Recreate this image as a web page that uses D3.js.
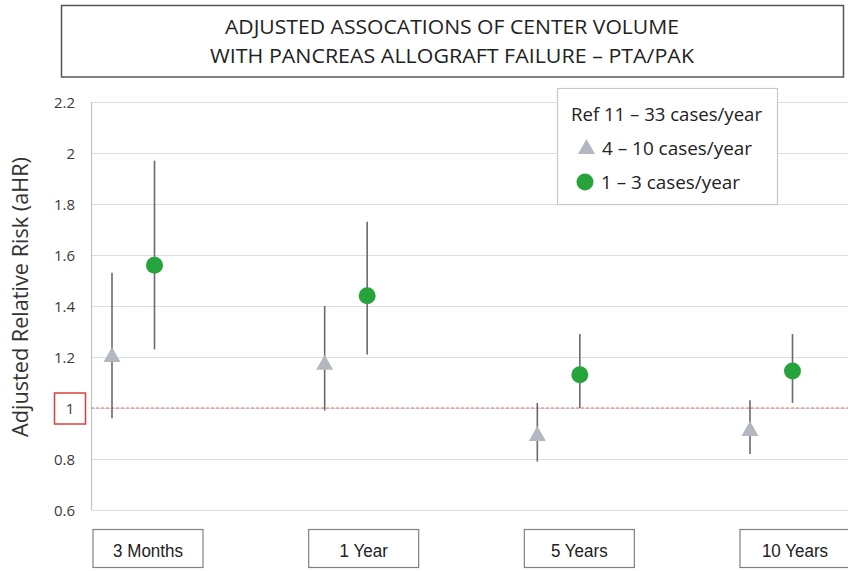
<!DOCTYPE html>
<html>
<head>
<meta charset="utf-8">
<script src="https://cdn.jsdelivr.net/npm/d3@7"></script>
<style>
  html, body { margin: 0; padding: 0; background: #fff; }
  svg { display: block; }
</style>
</head>
<body>
<svg id="chart" width="848" height="571"></svg>
<script>
// ---- Data ----
const categories = ["3 Months", "1 Year", "5 Years", "10 Years"];
// 4 – 10 cases/year (triangles)
const midEst   = [1.20, 1.17, 0.89, 0.91];
const midLow   = [0.96, 0.99, 0.79, 0.82];
const midHigh  = [1.53, 1.40, 1.02, 1.03];
// 1 – 3 cases/year (circles)
const lowEst   = [1.56, 1.44, 1.13, 1.145];
const lowLow   = [1.23, 1.21, 1.00, 1.02];
const lowHigh  = [1.97, 1.73, 1.29, 1.29];
const yTicks = [0.6, 0.8, 1.0, 1.2, 1.4, 1.6, 1.8, 2.0, 2.2];
const titleLines = ["ADJUSTED ASSOCATIONS OF CENTER VOLUME", "WITH PANCREAS ALLOGRAFT FAILURE – PTA/PAK"];
const legendItems = ["Ref 11 – 33 cases/year", "4 – 10 cases/year", "1 – 3 cases/year"];
const yTitle = "Adjusted Relative Risk (aHR)";
const refValue = 1.0;

// ---- Layout ----
const svg = d3.select("#chart");
const plotLeft = 91, plotRight = 848, plotTop = 102, plotBottom = 510;
const y = d3.scaleLinear().domain([0.6, 2.2]).range([plotBottom, plotTop]);
const x = d3.scalePoint().domain(categories).range([133, 771]);
const xLabel = d3.scalePoint().domain(categories).range([148, 795]);
const triOff = -21, circOff = 21.5;

const green = "#27a33c", gray = "#b3b7bf", barColor = "#6a6a6a";
const calibriLike = "'Open Sans', 'Noto Sans', sans-serif";

// Title box
svg.append("rect").attr("x", 61.5).attr("y", 5.5).attr("width", 782).attr("height", 71.5)
  .attr("fill", "#fff").attr("stroke", "#555").attr("stroke-width", 1.5);
const titleSpecs = [{y: 34, w: 454}, {y: 63, w: 484}];
titleLines.forEach((t, i) => {
  svg.append("text").attr("x", 452).attr("y", titleSpecs[i].y)
    .attr("text-anchor", "middle").attr("font-family", calibriLike).attr("font-size", 20.5)
    .attr("fill", "#222").attr("textLength", titleSpecs[i].w).attr("lengthAdjust", "spacingAndGlyphs")
    .text(t);
});

// Gridlines
svg.append("g").selectAll("line").data(yTicks).join("line")
  .attr("x1", plotLeft).attr("x2", plotRight)
  .attr("y1", d => Math.round(y(d)) + 0.5).attr("y2", d => Math.round(y(d)) + 0.5)
  .attr("stroke", "#d8dde6").attr("stroke-width", 1.2);

// Left axis line
svg.append("line").attr("x1", plotLeft + 0.5).attr("x2", plotLeft + 0.5)
  .attr("y1", plotTop).attr("y2", plotBottom)
  .attr("stroke", "#c4c4c4").attr("stroke-width", 1.2);

// Y axis tick labels via d3 axis
const yAxis = d3.axisLeft(y).tickValues(yTicks).tickSize(0).tickPadding(0)
  .tickFormat(d => d3.format("~g")(+d.toFixed(1)));
const gy = svg.append("g").attr("transform", "translate(75,0)").call(yAxis);
gy.select(".domain").remove();
gy.selectAll("text").attr("font-family", calibriLike).attr("font-size", 15)
  .attr("fill", "#3a3a3a").attr("dy", "0.35em");

// Red box around "1"
svg.append("rect").attr("x", 54.5).attr("y", y(refValue) - 15).attr("width", 31).attr("height", 31)
  .attr("fill", "none").attr("stroke", "#d9403a").attr("stroke-width", 1.5);
gy.selectAll("text").filter(d => d === 1.0).attr("x", -5).attr("text-anchor", "middle");

// Reference dashed line
svg.append("line").attr("x1", plotLeft).attr("x2", plotRight)
  .attr("y1", y(refValue)).attr("y2", y(refValue))
  .attr("stroke", "#d9795a").attr("stroke-width", 1.2).attr("stroke-dasharray", "3,2");

// Y title
svg.append("text").attr("transform", `translate(28,297) rotate(-90)`)
  .attr("text-anchor", "middle").attr("font-family", calibriLike).attr("font-size", 21)
  .attr("fill", "#333").attr("textLength", 280).attr("lengthAdjust", "spacingAndGlyphs")
  .text(yTitle);

// Error bars
const marks = svg.append("g");
categories.forEach((c, i) => {
  const xt = x(c) + triOff, xc = x(c) + circOff;
  marks.append("line").attr("x1", xt).attr("x2", xt).attr("y1", y(midLow[i])).attr("y2", y(midHigh[i]))
    .attr("stroke", barColor).attr("stroke-width", 1.6);
  marks.append("line").attr("x1", xc).attr("x2", xc).attr("y1", y(lowLow[i])).attr("y2", y(lowHigh[i]))
    .attr("stroke", barColor).attr("stroke-width", 1.6);
});

const triPath = (cx, cy) => `M${cx},${cy - 10} L${cx + 8.5},${cy + 5} L${cx - 8.5},${cy + 5} Z`;
marks.selectAll("path.tri").data(categories).join("path").attr("class", "tri")
  .attr("d", (c, i) => triPath(x(c) + triOff, y(midEst[i])))
  .attr("fill", gray);
marks.selectAll("circle.pt").data(categories).join("circle").attr("class", "pt")
  .attr("cx", c => x(c) + circOff).attr("cy", (c, i) => y(lowEst[i])).attr("r", 8.5)
  .attr("fill", green);

// Legend
svg.append("rect").attr("x", 557.5).attr("y", 88.5).attr("width", 220).attr("height", 116)
  .attr("fill", "#fff").attr("stroke", "#c8c8c8").attr("stroke-width", 1.2);
const legSpecs = [{x: 571, y: 121, w: 191}, {x: 602, y: 155, w: 150}, {x: 601, y: 189, w: 139}];
legendItems.forEach((t, i) => {
  svg.append("text").attr("x", legSpecs[i].x).attr("y", legSpecs[i].y)
    .attr("font-family", calibriLike).attr("font-size", 17.5).attr("fill", "#222")
    .attr("textLength", legSpecs[i].w).attr("lengthAdjust", "spacingAndGlyphs").text(t);
});
svg.append("path").attr("d", triPath(586.5, 149)).attr("fill", gray);
svg.append("circle").attr("cx", 585).attr("cy", 182).attr("r", 8.5).attr("fill", green);

// Category label boxes
const lab = svg.append("g").selectAll("g").data(categories).join("g")
  .attr("transform", c => `translate(${xLabel(c)},0)`);
lab.append("rect").attr("x", -55).attr("y", 529.5).attr("width", 110).attr("height", 38)
  .attr("fill", "#fff").attr("stroke", "#808080").attr("stroke-width", 1.2);
lab.append("text").attr("x", 0).attr("y", 557).attr("text-anchor", "middle")
  .attr("font-family", "'Liberation Sans', Arial, sans-serif").attr("font-size", 18.5)
  .attr("fill", "#222")
  .attr("transform", "scale(0.92,1)")
  .text(c => c);
</script>
</body>
</html>
